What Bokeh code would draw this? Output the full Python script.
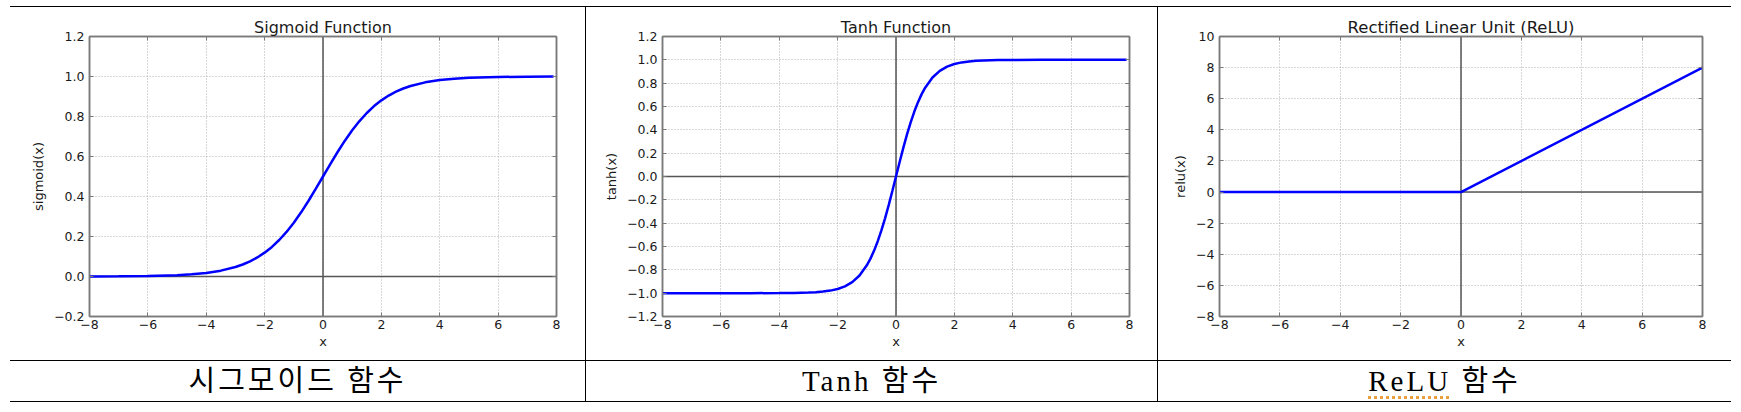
from bokeh.plotting import figure
from bokeh.layouts import row, column
from bokeh.models import Div, LinearAxis, FixedTicker, Span, CustomJSTickFormatter, Range1d
from bokeh.embed import file_html
from bokeh.resources import INLINE

# ---------------- data ----------------
x_ticks = [-8, -6, -4, -2, 0, 2, 4, 6, 8]

sig_x = [-8, -7, -6, -5, -4.5, -4, -3.5, -3, -2.75, -2.5, -2.25, -2, -1.75, -1.5,
         -1.25, -1, -0.75, -0.5, -0.25, 0, 0.25, 0.5, 0.75, 1, 1.25, 1.5, 1.75, 2,
         2.25, 2.5, 2.75, 3, 3.5, 4, 4.5, 5, 6, 7, 7.9]
sig_y = [0.0003, 0.0009, 0.0025, 0.0067, 0.0110, 0.0180, 0.0293, 0.0474, 0.0601,
         0.0759, 0.0953, 0.1192, 0.1480, 0.1824, 0.2227, 0.2689, 0.3208, 0.3775,
         0.4378, 0.5, 0.5622, 0.6225, 0.6792, 0.7311, 0.7773, 0.8176, 0.8520,
         0.8808, 0.9047, 0.9241, 0.9399, 0.9526, 0.9707, 0.9820, 0.9890, 0.9933,
         0.9975, 0.9991, 0.9996]
sig_yticks = [-0.2, 0.0, 0.2, 0.4, 0.6, 0.8, 1.0, 1.2]

tanh_x = [-8, -5, -4, -3.5, -3, -2.75, -2.5, -2.25, -2, -1.75, -1.5, -1.25, -1,
          -0.875, -0.75, -0.625, -0.5, -0.375, -0.25, -0.125, 0, 0.125, 0.25,
          0.375, 0.5, 0.625, 0.75, 0.875, 1, 1.25, 1.5, 1.75, 2, 2.25, 2.5, 2.75,
          3, 3.5, 4, 5, 7.9]
tanh_y = [-1.0, -0.9999, -0.9993, -0.9982, -0.9951, -0.9918, -0.9866, -0.9780,
          -0.9640, -0.9414, -0.9051, -0.8483, -0.7616, -0.7039, -0.6351, -0.5546,
          -0.4621, -0.3584, -0.2449, -0.1244, 0.0, 0.1244, 0.2449, 0.3584, 0.4621,
          0.5546, 0.6351, 0.7039, 0.7616, 0.8483, 0.9051, 0.9414, 0.9640, 0.9780,
          0.9866, 0.9918, 0.9951, 0.9982, 0.9993, 0.9999, 1.0]
tanh_yticks = [-1.2, -1.0, -0.8, -0.6, -0.4, -0.2, 0.0, 0.2, 0.4, 0.6, 0.8, 1.0, 1.2]

relu_x = [-8, 0, 8]
relu_y = [0, 0, 8]
relu_yticks = [-8, -6, -4, -2, 0, 2, 4, 6, 8, 10]

titles = ["Sigmoid Function", "Tanh Function", "Rectified Linear Unit (ReLU)"]
ylabels = ["sigmoid(x)", "tanh(x)", "relu(x)"]
captions = ["시그모이드 함수", "Tanh 함수", "ReLU 함수"]

# ---------------- styling ----------------
FONT = "DejaVu Sans"
SPINE = "#7a7a7a"
TXT = "#1a1a1a"
CAP_FONT = "'Liberation Serif', 'Noto Sans CJK KR', serif"


def minus_fmt(digits):
    return CustomJSTickFormatter(
        code="return tick.toFixed(%d).replace('-', '\\u2212');" % digits)


def chart(title, ylabel, xs, ys, yticks, ydig, yr, w, h, bl, br, bt, bb, tsize):
    p = figure(width=w, height=h, x_range=Range1d(-8, 8), y_range=Range1d(*yr),
               output_backend="svg", toolbar_location=None, tools="",
               min_border_left=bl, min_border_right=br,
               min_border_top=bt, min_border_bottom=bb,
               background_fill_color="white", border_fill_color="white")
    p.title.text = title
    p.title.text_font = FONT
    p.title.text_font_size = tsize
    p.title.text_font_style = "normal"
    p.title.text_color = TXT
    p.title.align = "center"
    p.title.standoff = 0

    p.outline_line_color = SPINE
    p.outline_line_width = 1.5

    p.xaxis.ticker = FixedTicker(ticks=x_ticks)
    p.yaxis.ticker = FixedTicker(ticks=yticks)
    p.xaxis.formatter = minus_fmt(0)
    p.yaxis.formatter = minus_fmt(ydig)
    for ax in (p.xaxis[0], p.yaxis[0]):
        ax.major_label_text_font = FONT
        ax.major_label_text_font_size = "12.5px"
        ax.major_label_text_color = TXT
        ax.axis_label_text_font = FONT
        ax.axis_label_text_font_size = "13px"
        ax.axis_label_text_font_style = "normal"
        ax.axis_label_text_color = TXT
        ax.major_tick_in = 4
        ax.major_tick_out = 0
        ax.minor_tick_line_color = None
        ax.major_tick_line_color = SPINE
        ax.axis_line_color = SPINE
        ax.axis_line_width = 1.5
    p.xaxis.axis_label = "x"
    p.yaxis.axis_label = ylabel
    p.xaxis.major_label_standoff = 3
    p.yaxis.major_label_standoff = 5
    p.xaxis.axis_label_standoff = 2
    p.yaxis.axis_label_standoff = 5

    for loc, tk in (("above", x_ticks), ("right", yticks)):
        ax = LinearAxis(ticker=FixedTicker(ticks=tk), major_label_text_font_size="1px",
                        major_label_text_color=None,
                        major_label_standoff=0, major_tick_in=4, major_tick_out=0,
                        minor_tick_line_color=None, major_tick_line_color=SPINE,
                        axis_line_color=SPINE, axis_line_width=1.5)
        p.add_layout(ax, loc)

    p.xgrid.ticker = FixedTicker(ticks=x_ticks)
    p.ygrid.ticker = FixedTicker(ticks=yticks)
    p.grid.grid_line_color = "#b0b0b0"
    p.grid.grid_line_dash = "1 2"
    p.grid.grid_line_width = 1

    p.add_layout(Span(location=0, dimension="width", line_color="#555555",
                      line_width=1.5, level="underlay"))
    p.add_layout(Span(location=0, dimension="height", line_color="#555555",
                      line_width=1.5, level="underlay"))

    p.line(xs, ys, line_color="#0000ff", line_width=2.5)
    return p


H = 353
p1 = chart(titles[0], ylabels[0], sig_x, sig_y, sig_yticks, 1, (-0.2, 1.2),
           575, H, 79, 29, 29, 44, "16px")
p2 = chart(titles[1], ylabels[1], tanh_x, tanh_y, tanh_yticks, 1, (-1.2, 1.2),
           571, H, 76, 28, 29, 44, "16px")
p3 = chart(titles[2], ylabels[2], relu_x, relu_y, relu_yticks, 0, (-8, 10),
           573, H, 61, 29, 25, 38, "16.5px")


def line_div(w, h):
    return Div(text="", width=w, height=h, margin=0,
               styles={"background-color": "#000000"})


def gap(w, h):
    return Div(text="", width=w, height=h, margin=0)


def caption(text, w, h, html=None):
    inner = html if html is not None else text
    return Div(text=(
        '<div style="width:%dpx;height:%dpx;line-height:%dpx;text-align:center;'
        'font-family:%s;font-size:29px;letter-spacing:3px;color:#000;'
        'white-space:nowrap;overflow:visible;">%s</div>' % (w, h, h, CAP_FONT, inner)),
        width=w, height=h, margin=0)


CH = 40
LEFT = 10
relu_html = ('<span style="text-decoration:underline dotted #e8a040;'
             'text-underline-offset:5px;">ReLU</span> 함수')

page = column(
    gap(LEFT, 6),
    row(gap(LEFT, 1), line_div(1721, 1)),
    row(gap(LEFT, H), p1, line_div(1, H), p2, line_div(1, H), p3),
    row(gap(LEFT, 1), line_div(1721, 1)),
    row(gap(LEFT, CH), caption(captions[0], 575, CH), line_div(1, CH),
        caption(captions[1], 571, CH), line_div(1, CH),
        caption(captions[2], 573, CH, html=relu_html)),
    row(gap(LEFT, 1), line_div(1721, 1)),
)

open("out.html", "w", encoding="utf-8").write(file_html(page, INLINE))
